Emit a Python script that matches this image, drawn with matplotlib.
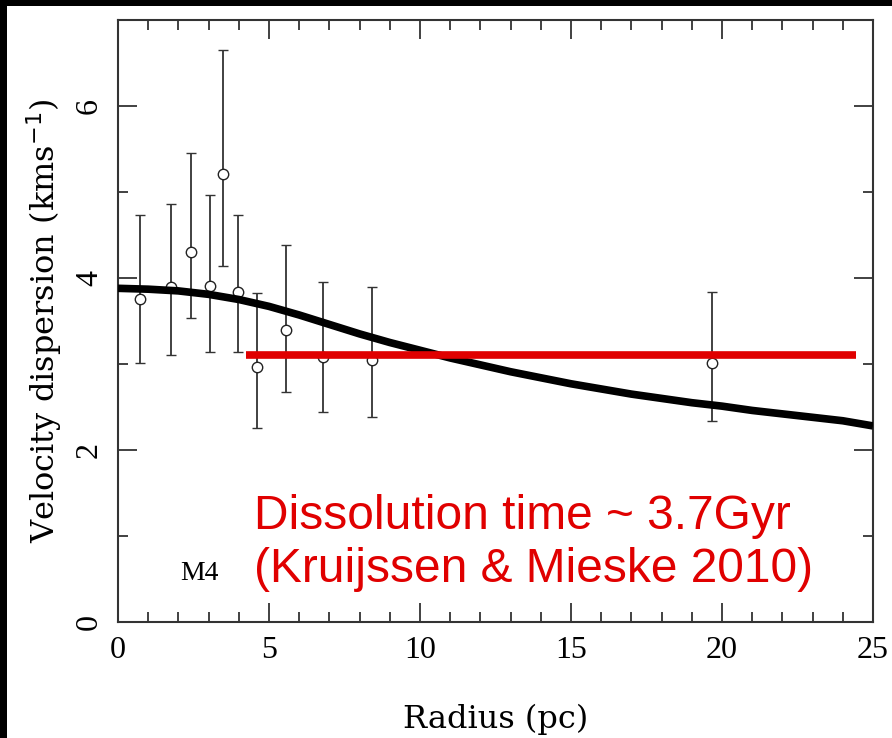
import matplotlib
matplotlib.use("Agg")
import matplotlib.pyplot as plt
from matplotlib.patches import Rectangle
from matplotlib.ticker import MultipleLocator

# M4 velocity dispersion profile
radius = [0.73, 1.77, 2.42, 3.05, 3.49, 3.96, 4.61, 5.55, 6.78, 8.40, 19.67]
sigma = [3.76, 3.89, 4.30, 3.91, 5.21, 3.84, 2.97, 3.39, 3.08, 3.05, 3.01]
err_hi = [0.97, 0.97, 1.15, 1.05, 1.44, 0.89, 0.85, 0.99, 0.87, 0.85, 0.83]
err_lo = [0.75, 0.78, 0.77, 0.77, 1.07, 0.70, 0.71, 0.72, 0.64, 0.67, 0.67]

# model curve
model_r = [0, 1, 2, 3, 4, 5, 6, 7, 8, 9, 10, 11, 12, 13, 14, 15, 16, 17, 18,
           19, 20, 21, 22, 23, 24, 25]
model_sigma = [3.88, 3.87, 3.85, 3.81, 3.75, 3.67, 3.57, 3.46, 3.35, 3.25,
               3.16, 3.07, 2.99, 2.91, 2.84, 2.77, 2.71, 2.65, 2.60, 2.55,
               2.51, 2.46, 2.42, 2.38, 2.34, 2.28]

# constant dispersion level
flat_r = [4.24, 24.44]
flat_sigma = 3.11

serif = "Liberation Serif"
wide_serif = "DejaVu Serif"

fig = plt.figure(figsize=(8.92, 7.38), dpi=100)
fig.patch.set_facecolor("black")
fig.patches.append(Rectangle((7 / 892, 0), 1, 1 - 5.5 / 738, transform=fig.transFigure,
                             facecolor="white", edgecolor="none", zorder=-1))

ax = fig.add_axes([118 / 892, 1 - 622 / 738, 755 / 892, 602 / 738])
ax.set_facecolor("white")

ax.errorbar(radius, sigma, yerr=[err_lo, err_hi], fmt="o", ms=7.5, mfc="white",
            mec="#222222", mew=1.0, ecolor="#333333", elinewidth=1.3,
            capsize=3.5, capthick=1.5, zorder=3)
ax.plot(model_r, model_sigma, color="black", lw=5.5, solid_capstyle="butt", zorder=4)
ax.plot(flat_r, [flat_sigma, flat_sigma], color="#e00000", lw=5.5,
        solid_capstyle="butt", zorder=5)

ax.set_xlim(0, 25)
ax.set_ylim(0, 7)
ax.xaxis.set_major_locator(MultipleLocator(5))
ax.xaxis.set_minor_locator(MultipleLocator(1))
ax.yaxis.set_major_locator(MultipleLocator(2))
ax.yaxis.set_minor_locator(MultipleLocator(1))
ax.tick_params(which="both", direction="in", top=True, right=True,
               color="#333333", width=1.3)
ax.tick_params(which="major", length=14, pad=10)
ax.tick_params(which="minor", length=7)
for sp in ax.spines.values():
    sp.set_color("#333333")
    sp.set_linewidth(1.5)

for lab in ax.get_xticklabels():
    lab.set_fontfamily(serif)
    lab.set_fontsize(23)
for lab in ax.get_yticklabels():
    lab.set_fontfamily(serif)
    lab.set_fontsize(23)
    lab.set_rotation(90)
    lab.set_va("center")

ax.set_xlabel("Radius (pc)", family=wide_serif, fontsize=23, labelpad=28)
ax.set_ylabel(r"Velocity dispersion (kms$^{-1}$)", family=wide_serif,
              fontsize=23, labelpad=8)

ax.text(2.7, 0.56, "M4", family=serif, fontsize=20, ha="center", va="center")
ax.text(4.5, 0.92, "Dissolution time ~ 3.7Gyr\n(Kruijssen & Mieske 2010)",
        family="Liberation Sans", fontsize=34.5, color="#e00000",
        ha="left", va="center", linespacing=1.22)

fig.savefig("out.png", dpi=100, facecolor=fig.get_facecolor())
